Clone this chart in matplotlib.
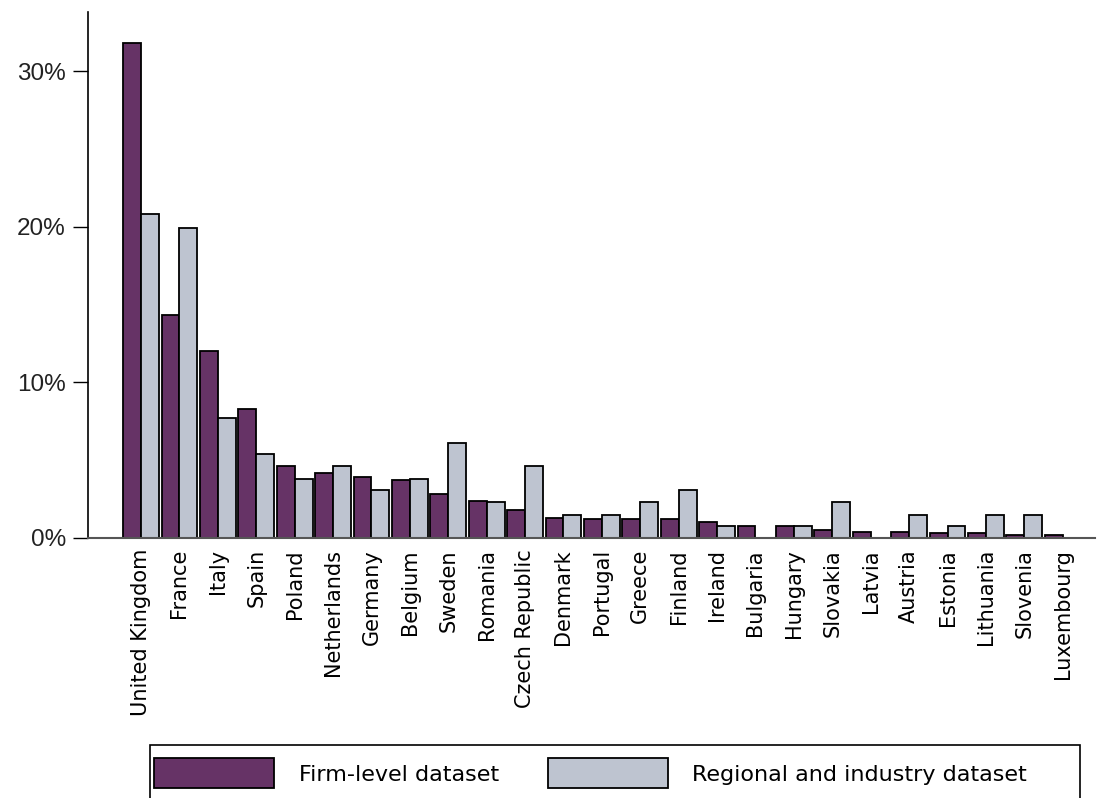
import matplotlib
matplotlib.use("Agg")
import matplotlib.pyplot as plt
from matplotlib.patches import Rectangle
import numpy as np

# country shares of observations in the two datasets (percent)
countries = ["United Kingdom", "France", "Italy", "Spain", "Poland", "Netherlands",
             "Germany", "Belgium", "Sweden", "Romania", "Czech Republic", "Denmark",
             "Portugal", "Greece", "Finland", "Ireland", "Bulgaria", "Hungary",
             "Slovakia", "Latvia", "Austria", "Estonia", "Lithuania", "Slovenia",
             "Luxembourg"]
firm_level = [31.8, 14.3, 12.0, 8.3, 4.6, 4.2, 3.9, 3.7, 2.8, 2.4, 1.8, 1.3,
              1.2, 1.2, 1.2, 1.0, 0.8, 0.8, 0.5, 0.4, 0.4, 0.3, 0.3, 0.2, 0.2]
regional = [20.8, 19.9, 7.7, 5.4, 3.8, 4.6, 3.1, 3.8, 6.1, 2.3, 4.6, 1.5,
            1.5, 2.3, 3.1, 0.8, 0.0, 0.8, 2.3, 0.0, 1.5, 0.8, 1.5, 1.5, 0.0]
yticks = [0, 10, 20, 30]
ytick_labels = ["0%", "10%", "20%", "30%"]

purple = "#663366"
grey = "#bec4d0"

plt.rcParams["font.family"] = ["DejaVu Sans"]

fig = plt.figure(figsize=(11.13, 7.98), dpi=100)
ax = fig.add_axes([88 / 1113, 1 - 538 / 798, (1095 - 88) / 1113, (538 - 12) / 798])

x = np.arange(len(countries))
w = 0.466
ax.bar(x - w / 2, firm_level, width=w, color=purple, edgecolor="black",
       linewidth=1.3, label="Firm-level dataset")
ax.bar(x + w / 2, regional, width=w, color=grey, edgecolor="black",
       linewidth=1.3, label="Regional and industry dataset")

ax.set_xlim(-1.38, 24.84)
ax.set_ylim(0, 33.8)
ax.set_yticks(yticks)
ax.set_yticklabels(ytick_labels, fontsize=17.5, color="#222222",
                   family=["Liberation Sans", "DejaVu Sans"])
ax.set_xticks(x)
ax.set_xticklabels(countries, rotation=90, fontsize=15)
ax.tick_params(axis="x", length=0, pad=8)
ax.tick_params(axis="y", length=11, width=1, pad=5)

for s in ["top", "right"]:
    ax.spines[s].set_visible(False)
ax.spines["left"].set_linewidth(1.2)
ax.spines["bottom"].set_color("#555555")
ax.spines["bottom"].set_linewidth(1.5)

# legend frame runs off the bottom edge like in the original
fig.patches.append(Rectangle((150 / 1113, -0.05), (1080 - 150) / 1113, 0.05 + 1 - 745 / 798,
                             transform=fig.transFigure, fill=False,
                             edgecolor="black", linewidth=1.2))
leg = fig.legend(loc="upper left", bbox_to_anchor=(150 / 1113, 1 - 754 / 798),
                 ncol=2, fontsize=16, frameon=False,
                 handlelength=5.4, handleheight=1.7,
                 handletextpad=1.1, columnspacing=2.2, borderpad=0.2,
                 borderaxespad=0)

fig.savefig("out.png", dpi=100)
